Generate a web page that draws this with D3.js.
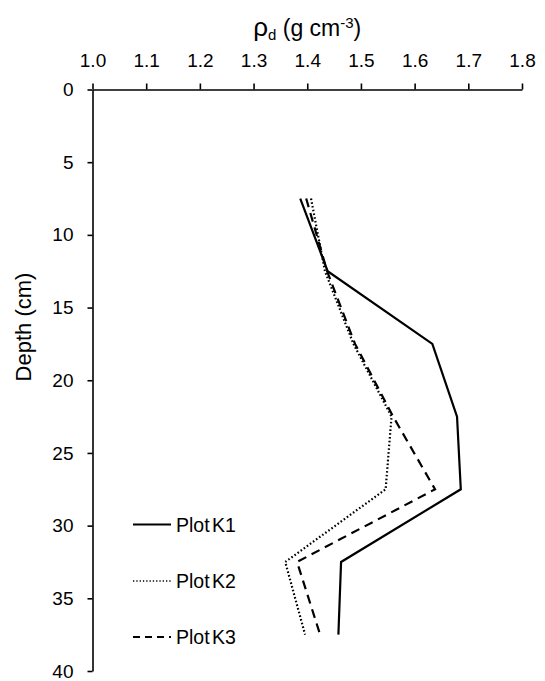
<!DOCTYPE html>
<html lang="en">
<head>
<meta charset="UTF-8">
<title>Bulk density profile</title>
<script src="https://d3js.org/d3.v7.min.js"></script>
<style>
    body { margin: 0; background: #fff; }
    svg { font-family: "Liberation Sans", Arial, sans-serif; }
    .axis path, .axis line { stroke: #000; stroke-width: 1.6px; }
    .axis text { font-size: 19px; fill: #000; }
    .profile { fill: none; stroke: #000; stroke-width: 2.2px; stroke-linejoin: miter; }
</style>
</head>
<body>
<svg id="chart" width="545" height="681"></svg>
<script>
// depth of each sample (cm)
const depths = [7.5, 12.5, 17.5, 22.5, 27.5, 32.5, 37.5];
// dry bulk density (g cm-3) per plot
const plotK1 = [1.387, 1.438, 1.633, 1.679, 1.686, 1.463, 1.458];
const plotK2 = [1.407, 1.433, 1.486, 1.557, 1.546, 1.359, 1.396];
const plotK3 = [1.398, 1.437, 1.489, 1.560, 1.638, 1.381, 1.424];
const seriesNames = ['Plot K1', 'Plot K2', 'Plot K3'];
const xTicks = [1.0, 1.1, 1.2, 1.3, 1.4, 1.5, 1.6, 1.7, 1.8];
const yTicks = [0, 5, 10, 15, 20, 25, 30, 35, 40];

const svg = d3.select('#chart');
const plotLeft = 92.5, plotRight = 522, plotTop = 89.5, plotBottom = 671;

const x = d3.scaleLinear().domain([1.0, 1.8]).range([plotLeft, plotRight]);
const y = d3.scaleLinear().domain([0, 40]).range([plotTop, plotBottom]);

// top axis
svg.append('g')
    .attr('class', 'axis')
    .attr('transform', `translate(0,${plotTop})`)
    .call(d3.axisTop(x).tickValues(xTicks).tickFormat(d3.format('.1f'))
        .tickSize(6).tickSizeOuter(0).tickPadding(16.5));

// left axis
svg.append('g')
    .attr('class', 'axis')
    .attr('transform', `translate(${plotLeft},0)`)
    .call(d3.axisLeft(y).tickValues(yTicks).tickSize(5).tickSizeOuter(0).tickPadding(14));

// axis titles
const title = svg.append('text')
    .attr('x', (plotLeft + plotRight) / 2)
    .attr('y', 36)
    .attr('text-anchor', 'middle')
    .style('font-size', '23px');
title.append('tspan').style('font-size', '26px').text('\u03C1');
title.append('tspan').attr('dy', 4).style('font-size', '15px').text('d');
title.append('tspan').attr('dy', -4).text(' (g cm');
title.append('tspan').attr('dy', -8).style('font-size', '15px').text('-3');
title.append('tspan').attr('dy', 8).text(')');

svg.append('text')
    .attr('transform', 'translate(31,327) rotate(-90)')
    .attr('text-anchor', 'middle')
    .style('font-size', '22px')
    .text('Depth (cm)');

// lines
const dashes = ['none', '1.6,2.2', '9,6'];
const legendDashes = ['none', '1.3,2', '7,5'];
const series = [plotK1, plotK2, plotK3];

const line = d3.line()
    .x(d => x(d[0]))
    .y(d => y(d[1]));

series.forEach((vals, i) => {
    svg.append('path')
        .datum(vals.map((v, j) => [v, depths[j]]))
        .attr('class', 'profile')
        .attr('stroke-dasharray', dashes[i])
        .attr('d', line);
});

// legend
const legendY = [524.5, 581, 637];
const legend = svg.append('g');
seriesNames.forEach((name, i) => {
    legend.append('line')
        .attr('x1', 133).attr('x2', 171)
        .attr('y1', legendY[i]).attr('y2', legendY[i])
        .attr('stroke', '#000')
        .attr('stroke-width', i === 1 ? 1.4 : 2.2)
        .attr('stroke-dasharray', legendDashes[i]);
    legend.append('text')
        .attr('x', 176)
        .attr('y', legendY[i] + 7)
        .style('font-size', '19.5px')
        .style('word-spacing', '-3px')
        .text(name);
});
</script>
</body>
</html>
